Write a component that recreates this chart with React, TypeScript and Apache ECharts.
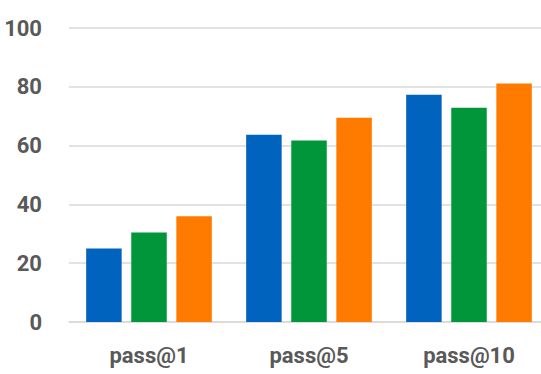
import React, { useEffect, useRef } from "react";
import * as echarts from "echarts";

const categories = ["pass@1", "pass@5", "pass@10"];
const seriesA = [25.0, 63.7, 77.3];
const seriesB = [30.4, 61.7, 72.9];
const seriesC = [36.0, 69.5, 81.1];
const colors = ["#0063BE", "#009639", "#FF7B00"];
const yTicks = { min: 0, max: 100, interval: 20 };

export default function App() {
  const ref = useRef<HTMLDivElement>(null);
  useEffect(() => {
    if (!ref.current) return;
    const chart = echarts.init(ref.current, null, { renderer: "svg" });
    const mk = (name: string, data: number[], color: string) => ({
      name,
      type: "bar",
      data,
      barWidth: 35.5,
      barGap: "27%",
      itemStyle: { color },
    });
    chart.setOption({
      animation: false,
      backgroundColor: "#ffffff",
      grid: { left: 69, right: 11, top: 28, bottom: 52, containLabel: false },
      xAxis: {
        type: "category",
        data: categories,
        axisLine: { show: true, lineStyle: { color: "#D9D9D9", width: 1.5 } },
        axisTick: { show: false },
        axisLabel: {
          color: "#595959",
          fontFamily: "Roboto",
          fontWeight: "bold",
          fontSize: 22,
          margin: 22,
        },
      },
      yAxis: {
        type: "value",
        min: yTicks.min,
        max: yTicks.max,
        interval: yTicks.interval,
        axisLine: { show: false },
        axisTick: { show: false },
        splitLine: { lineStyle: { color: "#D9D9D9", width: 1.5 } },
        axisLabel: {
          color: "#595959",
          fontFamily: "Roboto",
          fontWeight: "bold",
          fontSize: 22,
          margin: 27,
        },
      },
      series: [
        mk("A", seriesA, colors[0]),
        mk("B", seriesB, colors[1]),
        mk("C", seriesC, colors[2]),
      ],
    });
    return () => chart.dispose();
  }, []);
  return (
    <div
      style={{
        position: "fixed",
        left: 0,
        top: 0,
        width: 541,
        height: 374,
        overflow: "hidden",
        background: "#fff",
      }}
    >
      <div ref={ref} style={{ width: 560, height: 374 }} />
    </div>
  );
}
